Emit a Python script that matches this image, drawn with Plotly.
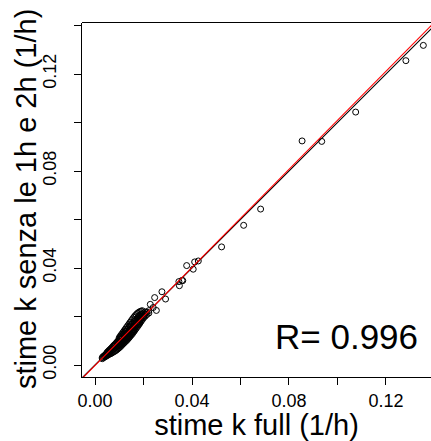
import plotly.graph_objects as go

# ---- data ----
# dense cluster near the origin, then the isolated points
k_full = [
    0.0030, 0.0030,
    0.0035, 0.0035,
    0.0040, 0.0040, 0.0040,
    0.0045, 0.0045, 0.0045,
    0.0050, 0.0050, 0.0050, 0.0050,
    0.0055, 0.0055, 0.0055, 0.0055,
    0.0060, 0.0060, 0.0060, 0.0060,
    0.0065, 0.0065, 0.0065, 0.0065,
    0.0070, 0.0070, 0.0070, 0.0070,
    0.0075, 0.0075, 0.0075, 0.0075,
    0.0080, 0.0080, 0.0080, 0.0080,
    0.0085, 0.0085, 0.0085, 0.0085,
    0.0090, 0.0090, 0.0090, 0.0090,
    0.0095, 0.0095, 0.0095, 0.0095,
    0.0100, 0.0100, 0.0100, 0.0100, 0.0100, 0.0100,
    0.0105, 0.0105, 0.0105, 0.0105, 0.0105, 0.0105,
    0.0110, 0.0110, 0.0110, 0.0110, 0.0110, 0.0110,
    0.0115, 0.0115, 0.0115, 0.0115, 0.0115, 0.0115,
    0.0120, 0.0120, 0.0120, 0.0120, 0.0120, 0.0120,
    0.0125, 0.0125, 0.0125, 0.0125, 0.0125, 0.0125,
    0.0130, 0.0130, 0.0130, 0.0130, 0.0130, 0.0130,
    0.0135, 0.0135, 0.0135, 0.0135, 0.0135, 0.0135,
    0.0140, 0.0140, 0.0140, 0.0140, 0.0140, 0.0140,
    0.0145, 0.0145, 0.0145, 0.0145, 0.0145, 0.0145,
    0.0150, 0.0150, 0.0150, 0.0150, 0.0150, 0.0150,
    0.0155, 0.0155, 0.0155, 0.0155, 0.0155, 0.0155,
    0.0160, 0.0160, 0.0160, 0.0160, 0.0160, 0.0160,
    0.0165, 0.0165, 0.0165, 0.0165, 0.0165,
    0.0170, 0.0170, 0.0170, 0.0170, 0.0170,
    0.0175, 0.0175, 0.0175, 0.0175, 0.0175,
    0.0180, 0.0180, 0.0180, 0.0180, 0.0180,
    0.0185, 0.0185, 0.0185, 0.0185, 0.0185,
    0.0190, 0.0190, 0.0190, 0.0190,
    0.0195, 0.0195, 0.0195, 0.0195,
    0.0200, 0.0200, 0.0200,
    0.0207, 0.0207, 0.0207,
    0.0214, 0.0214,
    0.0222, 0.0222,
    0.0240,
    0.1354, 0.1282, 0.1075, 0.0935, 0.0854, 0.0683, 0.0613, 0.0522, 0.0426, 0.0411,
    0.0378, 0.0405, 0.0359, 0.0346, 0.0348, 0.0362, 0.0276, 0.0246, 0.0291, 0.0228,
    0.0253,
]
k_senza = [
    0.0026, 0.0031,
    0.0030, 0.0036,
    0.0033, 0.0040, 0.0037,
    0.0036, 0.0045, 0.0041,
    0.0039, 0.0050, 0.0045, 0.0052,
    0.0042, 0.0055, 0.0048, 0.0057,
    0.0045, 0.0060, 0.0052, 0.0062,
    0.0047, 0.0065, 0.0056, 0.0067,
    0.0050, 0.0070, 0.0060, 0.0072,
    0.0053, 0.0075, 0.0064, 0.0078,
    0.0056, 0.0080, 0.0068, 0.0083,
    0.0059, 0.0085, 0.0072, 0.0088,
    0.0063, 0.0090, 0.0076, 0.0094,
    0.0067, 0.0095, 0.0081, 0.0100,
    0.0071, 0.0100, 0.0086, 0.0107, 0.0113, 0.0078,
    0.0076, 0.0105, 0.0090, 0.0113, 0.0120, 0.0083,
    0.0081, 0.0110, 0.0095, 0.0119, 0.0127, 0.0088,
    0.0086, 0.0115, 0.0100, 0.0125, 0.0134, 0.0093,
    0.0091, 0.0120, 0.0105, 0.0131, 0.0141, 0.0098,
    0.0096, 0.0125, 0.0110, 0.0137, 0.0148, 0.0103,
    0.0101, 0.0130, 0.0115, 0.0143, 0.0155, 0.0108,
    0.0106, 0.0135, 0.0120, 0.0149, 0.0162, 0.0113,
    0.0112, 0.0140, 0.0126, 0.0155, 0.0169, 0.0119,
    0.0118, 0.0145, 0.0131, 0.0161, 0.0176, 0.0125,
    0.0124, 0.0150, 0.0137, 0.0167, 0.0183, 0.0131,
    0.0130, 0.0155, 0.0142, 0.0172, 0.0190, 0.0137,
    0.0137, 0.0160, 0.0148, 0.0178, 0.0197, 0.0144,
    0.0144, 0.0165, 0.0154, 0.0183, 0.0203,
    0.0151, 0.0170, 0.0160, 0.0188, 0.0208,
    0.0158, 0.0175, 0.0166, 0.0193, 0.0213,
    0.0165, 0.0180, 0.0172, 0.0198, 0.0217,
    0.0172, 0.0185, 0.0178, 0.0202, 0.0220,
    0.0180, 0.0190, 0.0206, 0.0222,
    0.0187, 0.0196, 0.0210, 0.0224,
    0.0194, 0.0202, 0.0214,
    0.0201, 0.0210, 0.0219,
    0.0208, 0.0218,
    0.0214, 0.0224,
    0.0237,
    0.1318, 0.1255, 0.1043, 0.0922, 0.0924, 0.0643, 0.0576, 0.0487, 0.0429, 0.0425,
    0.0410, 0.0395, 0.0349, 0.0344, 0.0327, 0.0348, 0.0302, 0.0278, 0.0272, 0.0250,
    0.0225,
]
assert len(k_full) == len(k_senza)

fit_slope = 1.011
fit_intercept = -0.0002
r_value = 0.996

x_title = "stime k full (1/h)"
y_title = "stime k senza le 1h e 2h (1/h)"

x_tick_vals = [0.00, 0.02, 0.04, 0.06, 0.08, 0.10, 0.12]
x_tick_text = ["0.00", "", "0.04", "", "0.08", "", "0.12"]
y_tick_vals = [0.00, 0.02, 0.04, 0.06, 0.08, 0.10, 0.12, 0.14]
y_tick_text = ["0.00", "", "0.04", "", "0.08", "", "0.12", ""]

x_range = [-0.00536, 0.13856]
y_range = [-0.00495, 0.14103]

FONT = "Liberation Sans, Arial, Helvetica, sans-serif"

fig = go.Figure()

fig.add_trace(go.Scatter(
    x=k_full, y=k_senza, mode="markers",
    marker=dict(symbol="circle-open", size=6, color="black", line=dict(width=1, color="black")),
    showlegend=False, hoverinfo="skip",
))

line_x = [x_range[0] - 0.01, x_range[1] + 0.01]
fig.add_trace(go.Scatter(
    x=line_x, y=line_x, mode="lines",
    line=dict(color="black", width=1.1), showlegend=False, hoverinfo="skip",
))
fig.add_trace(go.Scatter(
    x=line_x, y=[fit_intercept + fit_slope * v for v in line_x], mode="lines",
    line=dict(color="#ff0000", width=1.1), showlegend=False, hoverinfo="skip",
))

fig.add_annotation(
    x=0.1342, y=0.0119, xref="x", yref="y", xanchor="right", yanchor="middle",
    text=f"R= {r_value}", showarrow=False,
    font=dict(family=FONT, size=35, color="black"),
)

# y-axis title placed precisely
fig.add_annotation(
    x=-0.16, y=0.503, xref="paper", yref="paper", xanchor="center", yanchor="middle",
    text=y_title, textangle=-90, showarrow=False,
    font=dict(family=FONT, size=29, color="black"),
)

# top border of the box (offset half a pixel so it renders crisp)
PLOT_H = 441 - 23 - 64
fig.add_shape(type="line", xref="paper", yref="paper", x0=0, x1=1,
              y0=1 + 0.5 / PLOT_H, y1=1 + 0.5 / PLOT_H,
              line=dict(color="black", width=1))

fig.update_layout(
    width=431, height=441,
    margin=dict(l=82, r=0, t=23, b=64, pad=0),
    paper_bgcolor="white", plot_bgcolor="white",
    font=dict(family=FONT, color="black"),
    xaxis=dict(
        range=x_range, showgrid=False, zeroline=False,
        showline=True, linecolor="black", linewidth=1, mirror=False,
        ticks="outside", ticklen=7, tickwidth=1, tickcolor="black",
        tickvals=x_tick_vals, ticktext=x_tick_text,
        tickfont=dict(size=18, family=FONT, color="black"),
        ticklabelstandoff=0,
        title=dict(text=x_title, font=dict(size=29, family=FONT, color="black"), standoff=0),
    ),
    yaxis=dict(
        range=y_range, showgrid=False, zeroline=False,
        showline=True, linecolor="black", linewidth=1, mirror=False,
        ticks="outside", ticklen=7, tickwidth=1, tickcolor="black",
        tickvals=y_tick_vals, ticktext=y_tick_text, tickangle=-90,
        tickfont=dict(size=18, family=FONT, color="black"),
        ticklabelstandoff=11,
    ),
)

fig.write_html("out.html")
